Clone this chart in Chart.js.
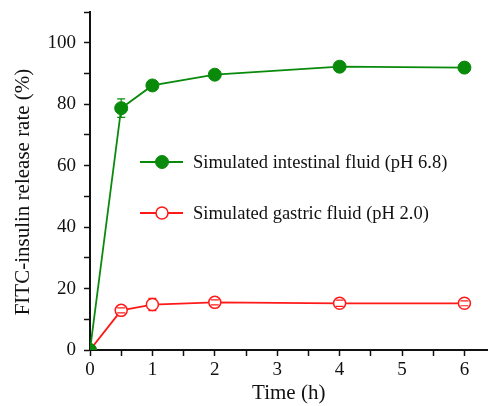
<!DOCTYPE html>
<html lang="en">
<head>
<meta charset="UTF-8">
<title>FITC-insulin release</title>
<script src="https://cdn.jsdelivr.net/npm/chart.js"></script>
<style>
  body { margin: 0; background: #fff; }
  #wrap { width: 495px; height: 406px; }
</style>
</head>
<body>
<div id="wrap"><canvas id="releaseChart" width="495" height="406"></canvas></div>
<script>
  // data
  const times = [0, 0.5, 1, 2, 4, 6];
  const intestinal = [0, 78.7, 86.1, 89.6, 92.2, 91.9];
  const intestinalErr = [0, 3, 0.8, 0.8, 0.5, 0.5];
  const gastric = [0, 12.9, 14.8, 15.5, 15.2, 15.2];
  const gastricErr = [0, 0.8, 2, 0.8, 1, 0.8];
  const xTicks = [0, 0.5, 1, 1.5, 2, 2.5, 3, 3.5, 4, 4.5, 5, 5.5, 6];
  const yTicks = [0, 10, 20, 30, 40, 50, 60, 70, 80, 90, 100, 110];
  const seriesNames = ['Simulated intestinal fluid (pH 6.8)', 'Simulated gastric fluid (pH 2.0)'];
  const yTitle = 'FITC-insulin release rate (%)';

  const green = '#0a8a0a';
  const red = '#ff1a1a';
  const font = "'Liberation Serif', 'Times New Roman', serif";

  const toPoints = (ys) => times.map((t, i) => ({ x: t, y: ys[i] }));

  // error bars, drawn with the chart scales; vertical parts skip the marker inside
  const errorBars = {
    id: 'errorBars',
    afterDatasetsDraw(chart) {
      const { ctx, scales: { x, y } } = chart;
      const sets = [intestinalErr, gastricErr];
      chart.data.datasets.forEach((ds, d) => {
        const errs = sets[d];
        const r = ds.pointRadius;
        ctx.save();
        ctx.strokeStyle = ds.borderColor;
        ctx.lineWidth = 1.2;
        ds.data.forEach((p, i) => {
          if (!errs[i]) return;
          const px = x.getPixelForValue(p.x);
          const py = y.getPixelForValue(p.y);
          const top = y.getPixelForValue(p.y + errs[i]);
          const bot = y.getPixelForValue(p.y - errs[i]);
          ctx.beginPath();
          if (py - top > r) { ctx.moveTo(px, top); ctx.lineTo(px, py - r); }
          if (bot - py > r) { ctx.moveTo(px, py + r); ctx.lineTo(px, bot); }
          ctx.moveTo(px - 4, top); ctx.lineTo(px + 4, top);
          ctx.moveTo(px - 4, bot); ctx.lineTo(px + 4, bot);
          ctx.stroke();
        });
        ctx.restore();
      });
    }
  };

  // legend sitting inside the plot, plus the y title (sits a bit below centre)
  const innerLegend = {
    id: 'innerLegend',
    afterDraw(chart) {
      const ctx = chart.ctx;
      const left = chart.chartArea.left + 50;
      const rows = [162, 213];
      chart.data.datasets.forEach((ds, i) => {
        const yy = rows[i];
        ctx.save();
        ctx.strokeStyle = ds.borderColor;
        ctx.lineWidth = 1.8;
        ctx.beginPath();
        ctx.moveTo(left, yy);
        ctx.lineTo(left + 43, yy);
        ctx.stroke();
        ctx.beginPath();
        ctx.arc(left + 22, yy, ds.pointRadius, 0, Math.PI * 2);
        ctx.fillStyle = ds.pointBackgroundColor;
        ctx.fill();
        ctx.lineWidth = ds.pointBorderWidth;
        ctx.stroke();
        ctx.fillStyle = '#111';
        ctx.font = '18.5px ' + font;
        ctx.textBaseline = 'middle';
        ctx.fillText(seriesNames[i], left + 53, yy + 1);
        ctx.restore();
      });

      ctx.save();
      ctx.translate(23, 192);
      ctx.rotate(-Math.PI / 2);
      ctx.fillStyle = '#111';
      ctx.font = '21px ' + font;
      ctx.textAlign = 'center';
      ctx.textBaseline = 'middle';
      ctx.fillText(yTitle, 0, 0);
      ctx.restore();
    }
  };

  const ctx = document.getElementById('releaseChart').getContext('2d');
  new Chart(ctx, {
    type: 'line',
    data: {
      datasets: [
        {
          label: seriesNames[0],
          data: toPoints(intestinal),
          borderColor: green,
          backgroundColor: green,
          pointBackgroundColor: green,
          pointBorderColor: green,
          pointBorderWidth: 1,
          pointRadius: 6.5,
          borderWidth: 1.8,
          tension: 0
        },
        {
          label: seriesNames[1],
          data: toPoints(gastric),
          borderColor: red,
          backgroundColor: '#fff',
          pointBackgroundColor: '#fff',
          pointBorderColor: red,
          pointBorderWidth: 1.5,
          pointRadius: 6,
          borderWidth: 1.8,
          tension: 0
        }
      ]
    },
    options: {
      responsive: false,
      animation: false,
      layout: { padding: { left: 0, right: 2, top: 12, bottom: 0 } },
      plugins: {
        legend: { display: false },
        tooltip: { enabled: false }
      },
      scales: {
        x: {
          type: 'linear',
          min: 0,
          max: 6.37,
          afterBuildTicks: (scale) => { scale.ticks = xTicks.map(v => ({ value: v })); },
          afterFit: (scale) => { scale.height = 56; },
          border: { color: '#111', width: 2 },
          grid: { drawOnChartArea: false, tickLength: 6, tickColor: '#111', tickWidth: 1.5 },
          ticks: {
            autoSkip: false,
            maxRotation: 0,
            padding: 3,
            color: '#111',
            font: { family: font, size: 19 },
            callback: (v) => (v % 1 === 0 ? v : '')
          },
          title: {
            display: true,
            text: 'Time (h)',
            color: '#111',
            font: { family: font, size: 21 },
            padding: { top: 0, bottom: 0 }
          }
        },
        y: {
          min: 0,
          max: 110,
          afterBuildTicks: (scale) => { scale.ticks = yTicks.map(v => ({ value: v })); },
          afterFit: (scale) => { scale.width = 90; },
          border: { color: '#111', width: 2 },
          grid: { drawOnChartArea: false, tickLength: 6, tickColor: '#111', tickWidth: 1.5 },
          ticks: {
            autoSkip: false,
            padding: 8,
            color: '#111',
            font: (c) => ({ family: font, size: c.tick && c.tick.value > 100 ? 1 : 19 }),
            callback: (v) => (v % 20 === 0 && v <= 100 ? v : '')
          },
          title: { display: false }
        }
      }
    },
    plugins: [errorBars, innerLegend]
  });
</script>
</body>
</html>
